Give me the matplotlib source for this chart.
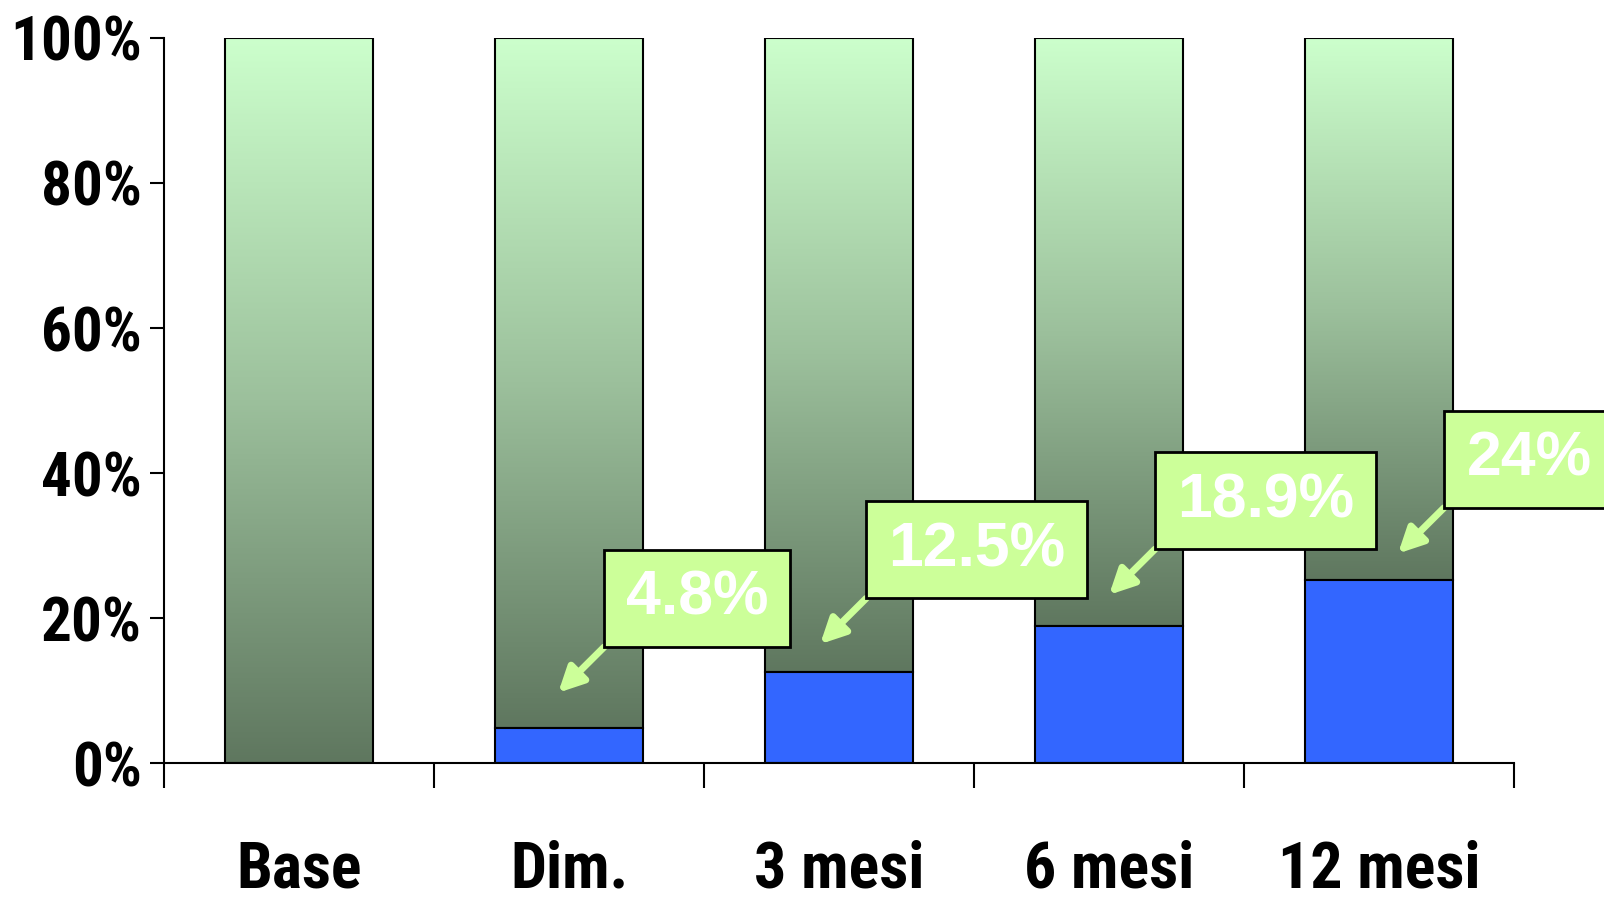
import numpy as np
import matplotlib
matplotlib.use("Agg")
from matplotlib import pyplot as plt
from matplotlib.patches import Rectangle
from matplotlib.colors import LinearSegmentedColormap

# data
categories = ["Base", "Dim.", "3 mesi", "6 mesi", "12 mesi"]
blue_values = [0, 4.8, 12.5, 18.9, 25.3]     # blue part (%)
label_texts = ["4.8%", "12.5%", "18.9%", "24%"]
y_ticks = [0, 20, 40, 60, 80, 100]

# callout boxes on bars 1..4: lower-left corner and width (data coords)
box_pos = [(1.13, 16.0), (2.10, 22.7), (3.17, 29.5), (4.24, 35.2)]
box_widths = [0.69, 0.82, 0.82, 0.63]
box_h = 13.4

fig = plt.figure(figsize=(16.04, 8.98), dpi=100)
ax = fig.add_axes([0.1022, 0.1503, 0.8418, 0.8074])

narrow = ["Liberation Sans Narrow", "Roboto Condensed", "Archivo Narrow",
          "Open Sans Condensed", "DejaVu Sans"]
green_cmap = LinearSegmentedColormap.from_list("g", ["#5f775f", "#9cc09c", "#ccffcc"])
grad = np.linspace(0, 1, 256).reshape(-1, 1)
bar_w = 0.55

x = np.arange(len(categories))
for i, b in enumerate(blue_values):
    # green gradient part from blue top to 100%
    ax.imshow(grad, cmap=green_cmap, origin="lower", aspect="auto",
              extent=[x[i] - bar_w / 2, x[i] + bar_w / 2, b, 100], zorder=1)
    ax.bar(x[i], 100 - b, bottom=b, width=bar_w, facecolor="none",
           edgecolor="black", linewidth=1.5, zorder=2)
    if b > 0:
        ax.bar(x[i], b, width=bar_w, color="#3366ff", edgecolor="black",
               linewidth=1.5, zorder=2)

# callout boxes with arrows
for (bx, by), bw, txt in zip(box_pos, box_widths, label_texts):
    rect = Rectangle((bx, by), bw, box_h, facecolor="#ccff99",
                     edgecolor="black", linewidth=2, zorder=5, clip_on=False)
    ax.add_patch(rect)
    ax.text(bx + bw / 2, by + box_h / 2, txt, color="white", fontsize=45,
            fontweight="bold", family="Liberation Sans", ha="center",
            va="center", zorder=6, clip_on=False)
    ax.annotate("", xy=(bx - 0.17, by - 6.3), xytext=(bx, by),
                arrowprops=dict(arrowstyle="-|>,head_length=1.5,head_width=0.75",
                                color="#ccff99", lw=5, shrinkA=0, shrinkB=0),
                zorder=4)

ax.set_xlim(-0.5, 4.5)
ax.set_ylim(0, 100)
for s in ["top", "right"]:
    ax.spines[s].set_visible(False)
ax.spines["left"].set_linewidth(1.5)
ax.spines["bottom"].set_linewidth(1.5)

ax.set_yticks(y_ticks)
ax.set_yticklabels([f"{v}%" for v in y_ticks], fontsize=44,
                   fontweight="bold", family=narrow)
ax.tick_params(axis="y", length=10, width=1.5, pad=6)

ax.set_xticks(np.arange(-0.5, 5, 1))
ax.set_xticklabels([])
ax.tick_params(axis="x", which="major", length=18, width=1.5)
ax.set_xticks(x, minor=True)
ax.set_xticklabels(categories, minor=True, fontsize=46, fontweight="bold",
                   family=narrow)
ax.tick_params(axis="x", which="minor", length=0, pad=55)

fig.savefig("out.png", dpi=100)
